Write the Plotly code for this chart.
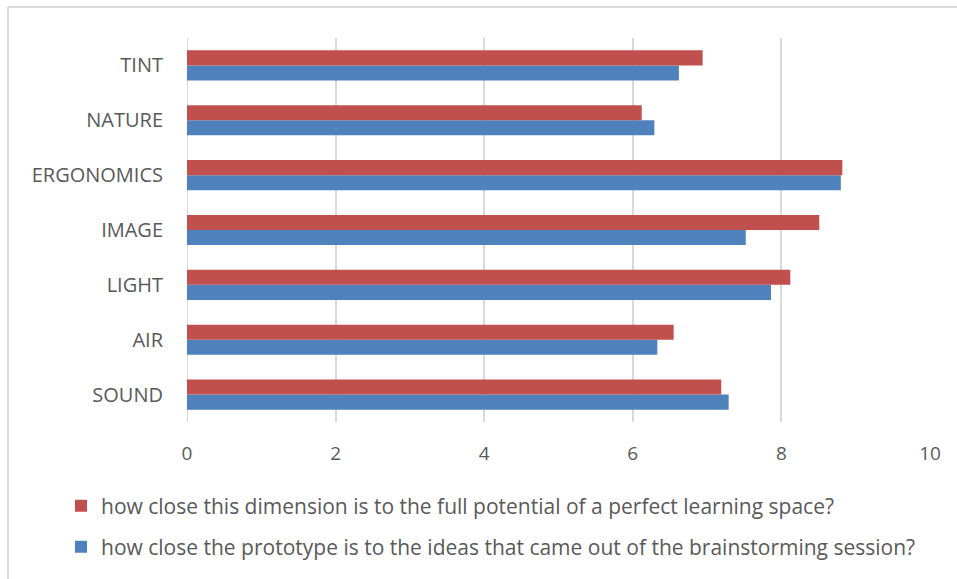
import plotly.graph_objects as go

categories = ["SOUND", "AIR", "LIGHT", "IMAGE", "ERGONOMICS", "NATURE", "TINT"]
potential = [7.19, 6.55, 8.12, 8.51, 8.82, 6.12, 6.94]
prototype = [7.29, 6.33, 7.86, 7.52, 8.80, 6.29, 6.62]
x_ticks = [0, 2, 4, 6, 8, 10]

name_potential = "how close this dimension is to the full potential of a perfect learning space?"
name_prototype = "how close the prototype is to the ideas that came out of the brainstorming session?"

W, H = 957, 579
L, R, T, B = 187, 930, 38, 422

FONT = "Open Sans"
TXT = "#595959"

fig = go.Figure()
fig.add_trace(go.Bar(y=categories, x=prototype, orientation="h", name=name_prototype,
                     marker=dict(color="#4F81BD", line=dict(width=0)), legend="legend2"))
fig.add_trace(go.Bar(y=categories, x=potential, orientation="h", name=name_potential,
                     marker=dict(color="#C0504D", line=dict(width=0)), legend="legend"))

def px_x(p):
    return (p - L) / (R - L)

def px_y(p):
    return (B - p) / (B - T)

fig.update_layout(
    width=W, height=H,
    margin=dict(l=L, r=W - R, t=T, b=H - B),
    paper_bgcolor="white", plot_bgcolor="white",
    barmode="group", bargap=0.45, bargroupgap=0,
    font=dict(family=FONT, color=TXT, size=19),
    xaxis=dict(range=[0, 10], tickvals=x_ticks, showgrid=True, gridcolor="#d9d9d9",
               gridwidth=2, zeroline=False, showline=False, ticks="",
               ticklabelstandoff=18, tickfont=dict(size=19, color=TXT)),
    yaxis=dict(showgrid=False, zeroline=False, showline=False, ticks="",
               ticklabelstandoff=23, tickfont=dict(size=20, color=TXT)),
    legend=dict(x=px_x(61), y=px_y(506), xanchor="left", yanchor="middle",
                font=dict(size=21, color=TXT), bgcolor="rgba(0,0,0,0)"),
    legend2=dict(x=px_x(61), y=px_y(547), xanchor="left", yanchor="middle",
                 font=dict(size=21, color=TXT), bgcolor="rgba(0,0,0,0)"),
    showlegend=True,
)

# left zero line (category axis line)
fig.add_shape(type="line", xref="x", yref="paper", x0=0, x1=0, y0=0, y1=1,
              line=dict(color="#d9d9d9", width=2), layer="below")
# outer chart border (top and left)
fig.add_shape(type="line", xref="paper", yref="paper", x0=px_x(8), x1=px_x(960),
              y0=px_y(7), y1=px_y(7), line=dict(color="#d9d9d9", width=2))
fig.add_shape(type="line", xref="paper", yref="paper", x0=px_x(8), x1=px_x(8),
              y0=px_y(7), y1=px_y(585), line=dict(color="#d9d9d9", width=2))

fig.write_html("out.html")
